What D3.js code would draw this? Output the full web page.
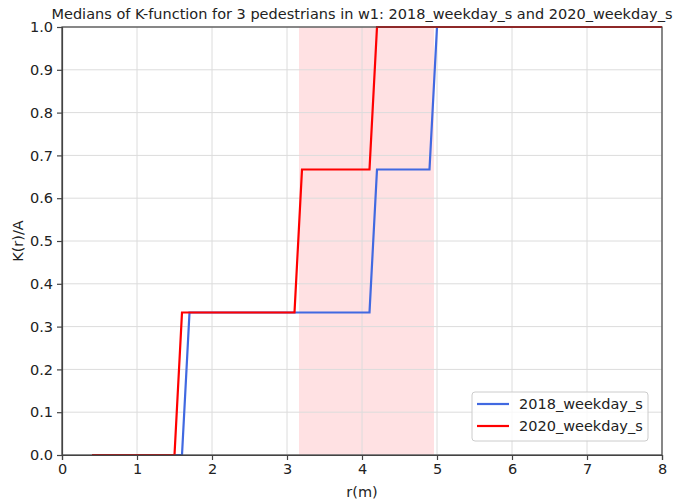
<!DOCTYPE html>
<meta charset="utf-8">
<script src="https://d3js.org/d3.v7.min.js"></script>
<style type="text/css">
body { margin: 0; background: #fff; }
text { font-family: "DejaVu Sans", sans-serif; fill: #222; }
.grade line { stroke: #dcdcdc; stroke-width: 1; }
.eixo path, .eixo line { stroke: #444; stroke-width: 1.2; }
.linha-azul { fill: none; stroke: #4169e1; stroke-width: 2.2; }
.linha-vermelha { fill: none; stroke: #ff0000; stroke-width: 2.2; }
</style>
<body>
<div id="canvas"></div>
<script>

    // vertices of the step lines (r, K(r)/A)
    var r2018 = [0.4, 1.6, 1.7, 4.1, 4.2, 4.9, 5.0, 8.0];
    var k2018 = [0, 0, 0.333, 0.333, 0.667, 0.667, 1, 1];
    var r2020 = [0.4, 1.5, 1.6, 3.1, 3.2, 4.1, 4.2, 8.0];
    var k2020 = [0, 0, 0.333, 0.333, 0.667, 0.667, 1, 1];
    var faixa = [3.16, 4.96];
    var xTicks = [0, 1, 2, 3, 4, 5, 6, 7, 8];
    var yTicks = [0, 0.1, 0.2, 0.3, 0.4, 0.5, 0.6, 0.7, 0.8, 0.9, 1.0];
    var nomes = ["2018_weekday_s", "2020_weekday_s"];
    var titulo = "Medians of K-function for 3 pedestrians in w1: 2018_weekday_s and 2020_weekday_s";

    var width = 673;
    var height = 503;
    var fonte = "14.5px";

    var svg = d3.select('#canvas')
        .append("svg")
        .attr('width', width)
        .attr('height', height);

    var margin = {top: 27, right: 11, bottom: 48, left: 62};
    var w = width - margin.left - margin.right;
    var h = height - margin.top - margin.bottom;

    var g = svg.append("g")
        .attr("transform", "translate(" + margin.left + "," + margin.top + ")");

    var x = d3.scaleLinear().domain([0, 8]).range([0, w]);
    var y = d3.scaleLinear().domain([0, 1]).range([h, 0]);

    // faixa rosa
    g.append("rect")
        .attr("x", x(faixa[0]))
        .attr("y", 0)
        .attr("width", x(faixa[1]) - x(faixa[0]))
        .attr("height", h)
        .style("fill", "#ffe1e3");

    // grade ----------------------------------------------------------
    g.append("g").attr("class", "grade")
        .selectAll("line").data(xTicks).enter().append("line")
        .attr("x1", function(d) { return x(d); })
        .attr("x2", function(d) { return x(d); })
        .attr("y1", 0).attr("y2", h);
    g.append("g").attr("class", "grade")
        .selectAll("line").data(yTicks).enter().append("line")
        .attr("y1", function(d) { return y(d); })
        .attr("y2", function(d) { return y(d); })
        .attr("x1", 0).attr("x2", w);

    // linhas -------------------------------------------------------
    var line = d3.line()
        .x(function(d) { return x(d[0]); })
        .y(function(d) { return y(d[1]); });

    g.append("path")
        .attr("class", "linha-azul")
        .attr("d", line(d3.zip(r2018, k2018)));
    g.append("path")
        .attr("class", "linha-vermelha")
        .attr("d", line(d3.zip(r2020, k2020)));

    // eixos -------------------------------------------------------
    var xAxis = d3.axisBottom(x).tickValues(xTicks).tickSize(5).tickPadding(4).tickFormat(d3.format("d"));
    g.append("g").attr("class", "eixo")
        .attr("transform", "translate(0," + h + ")")
        .call(xAxis)
        .style("font-size", fonte);

    var yAxis = d3.axisLeft(y).tickValues(yTicks).tickSize(5).tickPadding(4).tickFormat(d3.format(".1f"));
    g.append("g").attr("class", "eixo")
        .call(yAxis)
        .style("font-size", fonte);

    g.selectAll(".eixo text").style("font-family", "DejaVu Sans").attr("fill", "#222");

    // borda
    g.append("rect")
        .attr("width", w).attr("height", h)
        .style("fill", "none").style("stroke", "#444").style("stroke-width", 1.2);

    // textos
    svg.append("text")
        .attr("x", margin.left + w / 2)
        .attr("y", 19)
        .attr("text-anchor", "middle")
        .style("font-size", fonte)
        .text(titulo);

    svg.append("text")
        .attr("x", margin.left + w / 2)
        .attr("y", 497)
        .attr("text-anchor", "middle")
        .style("font-size", fonte)
        .text("r(m)");

    svg.append("text")
        .attr("transform", "translate(23," + (margin.top + h / 2) + ") rotate(-90)")
        .attr("text-anchor", "middle")
        .style("font-size", fonte)
        .text("K(r)/A");

    // legenda --------------------------------------------------
    var legenda = svg.append("g").attr("transform", "translate(472,392)");
    legenda.append("rect")
        .attr("width", 176).attr("height", 49).attr("rx", 3)
        .style("fill", "#fff").style("fill-opacity", 0.8)
        .style("stroke", "#ccc");
    var cores = ["#4169e1", "#ff0000"];
    var item = legenda.selectAll(".item").data(nomes).enter().append("g")
        .attr("transform", function(d, i) { return "translate(0," + (12 + i * 22) + ")"; });
    item.append("line")
        .attr("x1", 5).attr("x2", 37)
        .style("stroke", function(d, i) { return cores[i]; })
        .style("stroke-width", 2.2);
    item.append("text")
        .attr("x", 47).attr("dy", "0.35em")
        .style("font-size", fonte)
        .text(function(d) { return d; });
</script>
</body>
